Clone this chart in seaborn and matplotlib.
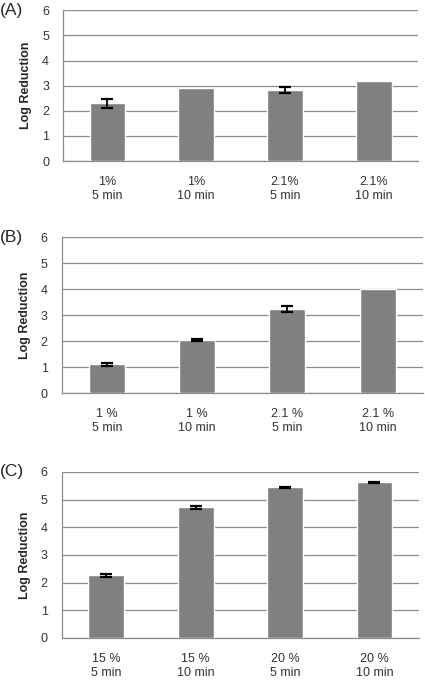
import matplotlib
matplotlib.use('Agg')
import matplotlib.pyplot as plt
import seaborn as sns
import numpy as np

# Values
labels_a = ['1%\n5 min', '1%\n10 min', '2.1%\n5 min', '2.1%\n10 min']
values_a = [2.30, 2.89, 2.82, 3.20]
errors_a = [0.17, 0.0, 0.12, 0.0]

labels_b = ['1 %\n5 min', '1 %\n10 min', '2.1 %\n5 min', '2.1 %\n10 min']
values_b = [1.10, 2.04, 3.24, 4.02]
errors_b = [0.05, 0.04, 0.10, 0.0]

labels_c = ['15 %\n5 min', '15 %\n10 min', '20 %\n5 min', '20 %\n10 min']
values_c = [2.26, 4.72, 5.44, 5.62]
errors_c = [0.06, 0.05, 0.03, 0.02]

panels = ['(A)', '(B)', '(C)']

sns.set_style('white')
plt.rcParams['font.family'] = ['Liberation Sans', 'DejaVu Sans']

fig = plt.figure(figsize=(4.25, 6.8), dpi=100)
positions = [
    [0.148, 0.763, 0.836, 0.222],
    [0.145, 0.422, 0.850, 0.229],
    [0.145, 0.062, 0.841, 0.244],
]
data = [(labels_a, values_a, errors_a), (labels_b, values_b, errors_b), (labels_c, values_c, errors_c)]

for pos, (labs, vals, errs), tag in zip(positions, data, panels):
    ax = fig.add_axes(pos)
    sns.barplot(x=labs, y=vals, color='#808080', width=0.4, saturation=1, ax=ax, zorder=3)
    x = np.arange(len(vals))
    e = np.array(errs)
    m = e > 0
    ax.errorbar(x[m], np.array(vals)[m], yerr=e[m], fmt='none', ecolor='black',
                elinewidth=1.3, capsize=4, capthick=1.6, zorder=4)
    ax.set_ylim(0, 6)
    ax.set_xlim(-0.5, 3.5)
    ax.set_yticks(range(0, 7))
    ax.grid(axis='y', color='#8c8c8c', linewidth=0.9, zorder=0)
    ax.set_axisbelow(True)
    for s in ['top', 'right']:
        ax.spines[s].set_visible(False)
    for s in ['left', 'bottom']:
        ax.spines[s].set_color('#8c8c8c')
        ax.spines[s].set_linewidth(0.9)
    ax.set_xticks(np.arange(-0.5, 4, 1), minor=True)
    ax.tick_params(axis='x', which='major', length=0, pad=11, labelsize=9, labelcolor='#333333')
    ax.tick_params(axis='x', which='minor', length=4, color='#8c8c8c', direction='out')
    ax.tick_params(axis='y', length=4, color='#8c8c8c', labelsize=9, labelcolor='#333333', pad=6)
    ax.set_ylabel('Log Reduction', fontsize=9, fontweight='bold', labelpad=7)
    ax.set_xlabel('')
    fig.text(0.0, pos[1] + pos[3], tag, fontsize=12.5, va='center', ha='left')

fig.savefig('out.png', dpi=100)
